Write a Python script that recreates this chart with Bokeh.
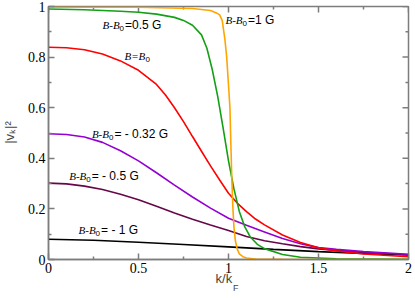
import math
from bokeh.plotting import figure
from bokeh.models import Label, FixedTicker
from bokeh.embed import file_html
from bokeh.resources import INLINE

# ---------------- data ----------------
x_ticks = [0, 0.5, 1, 1.5, 2]
x_tick_labels = ["0", "0.5", "1", "1.5", "2"]
x_minor = [0.25, 0.75, 1.25, 1.75]
y_ticks = [0, 0.2, 0.4, 0.6, 0.8, 1]
y_tick_labels = ["0", "0.2", "0.4", "0.6", "0.8", "1"]
y_minor = [0.1, 0.3, 0.5, 0.7, 0.9]

k_m1 = [0, 0.25, 0.5, 0.75, 1.0, 1.25, 1.5, 1.75, 2.0]
v_m1 = [0.080, 0.076, 0.068, 0.059, 0.050, 0.040, 0.031, 0.024, 0.018]

k_m05 = [0, 0.1, 0.2, 0.3, 0.4, 0.5, 0.6, 0.7, 0.8, 0.9, 1.0, 1.1, 1.2, 1.3, 1.4, 1.5, 1.6, 1.75, 2.0]
v_m05 = [0.302, 0.299, 0.290, 0.277, 0.258, 0.236, 0.210, 0.184, 0.159, 0.136, 0.115,
         0.091, 0.074, 0.062, 0.051, 0.042, 0.036, 0.028, 0.019]

k_m032 = [0, 0.1, 0.2, 0.3, 0.4, 0.5, 0.6, 0.7, 0.8, 0.9, 1.0, 1.1, 1.2, 1.3, 1.4, 1.5, 1.6, 1.75, 2.0]
v_m032 = [0.497, 0.494, 0.484, 0.463, 0.430, 0.390, 0.343, 0.294, 0.247, 0.203, 0.163,
          0.135, 0.109, 0.083, 0.062, 0.047, 0.040, 0.031, 0.021]

k_0 = [0, 0.1, 0.2, 0.3, 0.4, 0.5, 0.6, 0.65, 0.7, 0.75, 0.8, 0.85, 0.9, 0.95, 1.0, 1.05,
       1.1, 1.15, 1.2, 1.3, 1.4, 1.5, 1.6, 1.75, 2.0]
v_0 = [0.839, 0.837, 0.829, 0.812, 0.785, 0.748, 0.692, 0.650, 0.600, 0.545, 0.486, 0.428,
       0.370, 0.315, 0.262, 0.222, 0.189, 0.160, 0.137, 0.097, 0.067, 0.046, 0.034, 0.022, 0.011]

k_p05 = [0, 0.2, 0.4, 0.5, 0.6, 0.7, 0.75, 0.8, 0.85, 0.88, 0.91, 0.94, 0.97, 1.0,
         1.03, 1.06, 1.09, 1.12, 1.16, 1.2, 1.3, 1.4, 1.6, 2.0]
v_p05 = [0.990, 0.987, 0.981, 0.977, 0.970, 0.957, 0.945, 0.926, 0.888, 0.835, 0.750,
         0.645, 0.520, 0.390, 0.280, 0.190, 0.130, 0.090, 0.060, 0.043, 0.020, 0.009,
         0.003, 0.001]

k_p1 = [0, 0.5, 0.8, 0.9, 0.93, 0.95, 0.965, 0.98, 0.99, 1.0, 1.008, 1.013, 1.018,
        1.024, 1.03, 1.038, 1.048, 1.06, 1.08, 1.1, 1.15, 1.3, 2.0]
v_p1 = [0.997, 0.997, 0.992, 0.984, 0.975, 0.968, 0.945, 0.870, 0.800, 0.690, 0.600,
        0.460, 0.330, 0.210, 0.130, 0.075, 0.042, 0.022, 0.011, 0.006, 0.002, 0.0005, 0.0]

# ---------------- figure ----------------
GRAY = "#7d7d7d"
p = figure(frame_width=360, frame_height=253, x_range=(0, 2), y_range=(0, 1),
           output_backend="svg", toolbar_location=None,
           min_border_left=48, min_border_right=7, min_border_top=6, min_border_bottom=39,
           background_fill_color="white", border_fill_color="white")
p.xgrid.visible = False
p.ygrid.visible = False
p.outline_line_color = GRAY
p.outline_line_width = 1.5


def style(ax, ticks, minor, labels):
    ax.ticker = FixedTicker(ticks=ticks, minor_ticks=minor)
    ax.axis_line_color = GRAY
    ax.axis_line_width = 1.5
    ax.major_tick_line_color = GRAY
    ax.minor_tick_line_color = GRAY
    ax.major_tick_line_width = 1.5
    ax.minor_tick_line_width = 1.5
    ax.major_tick_in = 6
    ax.major_tick_out = 0
    ax.minor_tick_in = 3
    ax.minor_tick_out = 0
    ax.major_label_overrides = dict(zip(ticks, labels))
    ax.major_label_text_font = "Liberation Serif"
    ax.major_label_text_font_size = "14px"
    ax.major_label_text_color = "black"
    ax.major_label_standoff = 3


style(p.xaxis[0], x_ticks, x_minor, x_tick_labels)
style(p.yaxis[0], y_ticks, y_minor, y_tick_labels)

# mirrored inward ticks on the top and right edges (half of each dash is clipped by the frame)
p.scatter(x=x_ticks, y=[1] * len(x_ticks), marker="dash", angle=math.pi / 2, size=12,
          line_color=GRAY, line_width=1.5)
p.scatter(x=x_minor, y=[1] * len(x_minor), marker="dash", angle=math.pi / 2, size=6,
          line_color=GRAY, line_width=1.5)
p.scatter(x=[2] * len(y_ticks), y=y_ticks, marker="dash", size=12,
          line_color=GRAY, line_width=1.5)
p.scatter(x=[2] * len(y_minor), y=y_minor, marker="dash", size=6,
          line_color=GRAY, line_width=1.5)

LW = 1.6
p.line(k_m1, v_m1, line_color="black", line_width=LW)
p.line(k_m05, v_m05, line_color="#670748", line_width=LW)
p.line(k_m032, v_m032, line_color="#9400d3", line_width=LW)
p.line(k_0, v_0, line_color="#ff0000", line_width=LW)
p.line(k_p05, v_p05, line_color="#14a014", line_width=LW)
p.line(k_p1, v_p1, line_color="#ffa500", line_width=LW)

# ---------------- curve annotations ----------------
annotations = [
    # (x, y, main, rest)
    (0.300, 0.927, "B-B", "=0.5 G"),
    (0.422, 0.803, "B=B", ""),
    (0.241, 0.497, "B-B", "= - 0.32 G"),
    (0.115, 0.329, "B-B", "= - 0.5 G"),
    (0.167, 0.115, "B-B", "= - 1 G"),
    (0.983, 0.948, "B-B", "=1 G"),
]
for (ax_, ay_, main, rest) in annotations:
    w = 17 if main == "B-B" else 21
    p.add_layout(Label(x=ax_, y=ay_, text=main, text_font="Liberation Serif",
                       text_font_style="italic", text_font_size="11px",
                       text_baseline="middle", text_align="left", text_color="black"))
    p.add_layout(Label(x=ax_, y=ay_, x_offset=w, y_offset=-3.5, text="0",
                       text_font="Liberation Sans", text_font_size="8px",
                       text_baseline="middle", text_align="left", text_color="black"))
    if rest:
        p.add_layout(Label(x=ax_, y=ay_, x_offset=w + 5.5, text=rest,
                           text_font="Liberation Sans", text_font_size="12px",
                           text_baseline="middle", text_align="left", text_color="black"))

# ---------------- axis titles (placed in side panels so they are not clipped) ----------------
p.add_layout(Label(x=0.928, y=-0.077, text="k/k", text_font="Liberation Sans",
                   text_font_size="13px", text_baseline="middle", text_align="left"), "below")
p.add_layout(Label(x=1.025, y=-0.113, text="F", text_font="Liberation Sans",
                   text_font_size="9px", text_baseline="middle", text_align="left"), "left")
p.add_layout(Label(x=-0.2167, y=0.502, text="|v\u2096|\u00b2", angle=math.pi / 2,
                   text_font="Liberation Sans", text_font_size="13px",
                   text_baseline="middle", text_align="center"), "left")

open("out.html", "w").write(file_html(p, INLINE))
